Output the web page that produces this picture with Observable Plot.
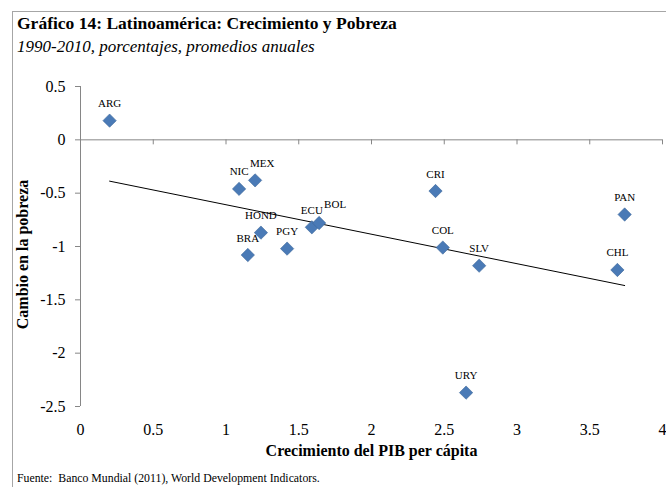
<!DOCTYPE html>
<html>
<head>
<meta charset="utf-8">
<script src="https://cdn.jsdelivr.net/npm/d3@7"></script>
<script src="https://cdn.jsdelivr.net/npm/@observablehq/plot@0.6"></script>
<style>
  body { margin: 0; background: #fff; }
  #wrap { position: relative; width: 666px; height: 487px; overflow: hidden; font-family: "Liberation Serif", serif; color: #000; }
  #frame { position: absolute; left: 12px; top: 11px; right: -5px; bottom: -5px; border-left: 1px solid #a6a6a6; border-top: 1px solid #a6a6a6; }
  #title { position: absolute; left: 17px; top: 15px; font-weight: bold; font-size: 17.5px; line-height: 17px; white-space: nowrap; }
  #subtitle { position: absolute; left: 17px; top: 39px; font-style: italic; font-size: 17px; line-height: 16px; white-space: nowrap; }
  #chart { position: absolute; left: 0; top: 56px; }
  #note { position: absolute; left: 17px; top: 472px; font-size: 11.8px; line-height: 12px; white-space: nowrap; }
</style>
</head>
<body>
<div id="wrap">
  <div id="frame"></div>
  <div id="title">Gráfico 14: Latinoamérica: Crecimiento y Pobreza</div>
  <div id="subtitle">1990-2010, porcentajes, promedios anuales</div>
  <div id="chart"></div>
  <div id="note">Fuente:&nbsp; Banco Mundial (2011), World Development Indicators.</div>
</div>
<script>
// ---- data ----
const countries = ["ARG","NIC","MEX","HOND","BRA","PGY","ECU","BOL","CRI","COL","SLV","PAN","CHL","URY"];
const growth = [0.20, 1.09, 1.20, 1.24, 1.15, 1.42, 1.59, 1.64, 2.44, 2.49, 2.74, 3.74, 3.69, 2.65];
const povertyChange = [0.18, -0.46, -0.38, -0.87, -1.08, -1.02, -0.82, -0.78, -0.48, -1.01, -1.18, -0.70, -1.22, -2.37];
const xTicks = [0, 0.5, 1, 1.5, 2, 2.5, 3, 3.5, 4];
const yTicks = [0.5, 0, -0.5, -1, -1.5, -2, -2.5];
const xTitle = "Crecimiento del PIB per cápita";
const yTitle = "Cambio en la pobreza";

const data = countries.map((c, i) => ({country: c, growth: growth[i], poverty: povertyChange[i]}));
const shifted = {MEX: 7, BOL: 16};

const axisColor = "#868686";
const chart = Plot.plot({
  width: 666,
  height: 410,
  marginLeft: 80,
  marginRight: 4,
  marginTop: 30,
  marginBottom: 60,
  style: {fontFamily: "'Liberation Serif', serif", fontSize: "16px", background: "transparent", color: "#000", overflow: "visible"},
  x: {domain: [0, 4]},
  y: {domain: [-2.5, 0.5]},
  marks: [
    Plot.ruleY([0], {stroke: axisColor}),
    Plot.ruleX([0], {stroke: axisColor}),
    Plot.ruleX(xTicks.filter(d => d > 0), {x: d => d, y1: 0, y2: 0, insetBottom: -5, stroke: axisColor}),
    Plot.axisY({ticks: yTicks, tickSize: 5, tickPadding: 10, tickFormat: d => String(d), stroke: axisColor, label: null, fill: "#000", fontSize: 16}),
    Plot.axisX({ticks: xTicks, tickSize: 0, tickPadding: 17, tickFormat: d => String(d), label: null, fill: "#000", fontSize: 16}),
    Plot.linearRegressionY(data, {x: "growth", y: "poverty", stroke: "#000", strokeWidth: 1, ci: 0}),
    Plot.dot(data, {x: "growth", y: "poverty", symbol: "diamond2", r: 6, fill: "#4a7ab6", stroke: "#3c6699", strokeWidth: 0.6}),
    Plot.text(data.filter(d => !(d.country in shifted)), {x: "growth", y: "poverty", text: "country", dy: -17, fontSize: 11}),
    Plot.text(data.filter(d => d.country === "MEX"), {x: "growth", y: "poverty", text: "country", dy: -17, dx: 7, fontSize: 11}),
    Plot.text(data.filter(d => d.country === "BOL"), {x: "growth", y: "poverty", text: "country", dy: -19, dx: 16, fontSize: 11}),
    Plot.text([xTitle], {frameAnchor: "bottom", dy: 49, fontWeight: "bold", fontSize: 16}),
    Plot.text([yTitle], {frameAnchor: "left", textAnchor: "middle", dx: -58, dy: 8, rotate: -90, fontWeight: "bold", fontSize: 16})
  ]
});
document.getElementById("chart").appendChild(chart);
</script>
</body>
</html>
